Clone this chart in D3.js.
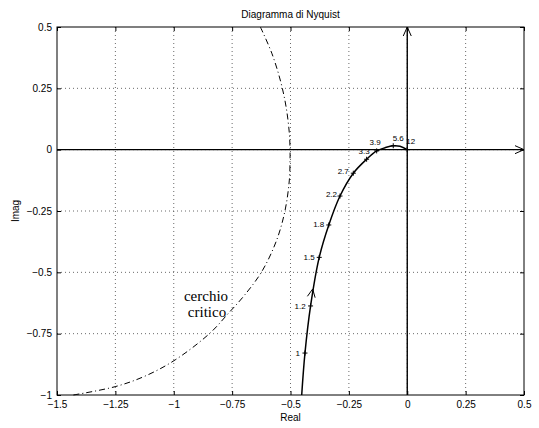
<!DOCTYPE html>
<head>
  <meta charset="utf-8">
  <style>
    body { margin: 0; background: #fff; }
    svg text { font-family: "Liberation Sans", Arial, sans-serif; }
    svg text.serif { font-family: "Liberation Serif", "DejaVu Serif", serif; }
  </style>
</head>
<body>
  <svg width=539 height=428 id="nyquist"></svg>

  <script src="https://d3js.org/d3.v7.min.js"></script>
  <script>
    // tick values and their labels
    const xTicks = [-1.5, -1.25, -1, -0.75, -0.5, -0.25, 0, 0.25, 0.5];
    const xTickLabels = ["\u22121.5", "\u22121.25", "\u22121", "\u22120.75", "\u22120.5", "\u22120.25", "0", "0.25", "0.5"];
    const yTicks = [-1, -0.75, -0.5, -0.25, 0, 0.25, 0.5];
    const yTickLabels = ["\u22121", "\u22120.75", "\u22120.5", "\u22120.25", "0", "0.25", "0.5"];

    // nyquist curve (real, imag)
    const curveRe = [-0.452, -0.438, -0.414, -0.377, -0.336, -0.288, -0.231, -0.174, -0.131, -0.095, -0.060, -0.031, 0];
    const curveIm = [-1.0, -0.829, -0.637, -0.439, -0.307, -0.189, -0.096, -0.039, -0.005, 0.008, 0.016, 0.014, 0];

    // frequency marks on the curve
    const freqLabels = ["1", "1.2", "1.5", "1.8", "2.2", "2.7", "3.3", "3.9", "5.6", "12"];
    const freqRe = [-0.438, -0.414, -0.377, -0.336, -0.288, -0.231, -0.174, -0.131, -0.060, 0];
    const freqIm = [-0.829, -0.637, -0.439, -0.307, -0.189, -0.096, -0.039, -0.005, 0.016, 0];

    // critical circle (dash-dot)
    const circRe = [-0.629, -0.580, -0.542, -0.519, -0.505, -0.502, -0.502, -0.505, -0.523, -0.559, -0.623, -0.702, -0.766, -0.845, -0.994, -1.123, -1.251, -1.43];
    const circIm = [0.5, 0.393, 0.277, 0.175, 0.067, 0.0, -0.042, -0.124, -0.246, -0.368, -0.497, -0.599, -0.667, -0.748, -0.857, -0.923, -0.966, -1.0];

    // where the direction arrow sits on the curve
    const arrowRe = -0.405, arrowIm = -0.568;

    // label offsets in px (layout only)
    const labelDx = [-5, -5, -4.5, -4.5, -3, -4.5, 3, 4, 5, 8];
    const labelDy = [3, 3, 2.5, 2, 1, 1, -5, -6, -5, -6];
    const labelAnchor = ["end", "end", "end", "end", "end", "end", "end", "end", "middle", "end"];

    let svg = d3.select("#nyquist"),
        pLeft = 57, pRight = 524, pTop = 27, pBottom = 395;

    let x = d3.scaleLinear().domain([-1.5, 0.5]).range([pLeft, pRight]),
        y = d3.scaleLinear().domain([-1, 0.5]).range([pBottom, pTop]);

    // grid
    let grid = svg.append("g")
        .attr("stroke", "#444")
        .attr("stroke-width", 0.8)
        .attr("stroke-dasharray", "1,3");
    grid.selectAll(".gx").data(xTicks.slice(1, -1)).enter().append("line")
        .attr("x1", d => x(d)).attr("x2", d => x(d))
        .attr("y1", pTop).attr("y2", pBottom);
    grid.selectAll(".gy").data(yTicks.slice(1, -1)).enter().append("line")
        .attr("y1", d => y(d)).attr("y2", d => y(d))
        .attr("x1", pLeft).attr("x2", pRight);

    // axes with inward ticks
    function styleAxis(g) {
      g.select(".domain").remove();
      g.selectAll("text").attr("font-size", 10).attr("fill", "#000");
      g.selectAll("line").attr("stroke", "#000");
    }
    svg.append("g").attr("transform", `translate(0,${pBottom})`)
      .call(d3.axisBottom(x).tickValues(xTicks).tickFormat((d, i) => xTickLabels[i])
        .tickSizeInner(-4).tickSizeOuter(0).tickPadding(6))
      .call(styleAxis);
    svg.append("g").attr("transform", `translate(0,${pTop})`)
      .call(d3.axisTop(x).tickValues(xTicks).tickFormat("")
        .tickSizeInner(-4).tickSizeOuter(0))
      .call(styleAxis);
    svg.append("g").attr("transform", `translate(${pLeft},0)`)
      .call(d3.axisLeft(y).tickValues(yTicks).tickFormat((d, i) => yTickLabels[i])
        .tickSizeInner(-4).tickSizeOuter(0).tickPadding(5))
      .call(styleAxis);
    svg.append("g").attr("transform", `translate(${pRight},0)`)
      .call(d3.axisRight(y).tickValues(yTicks).tickFormat("")
        .tickSizeInner(-4).tickSizeOuter(0))
      .call(styleAxis);

    svg.append("rect")
      .attr("x", pLeft).attr("y", pTop)
      .attr("width", pRight - pLeft).attr("height", pBottom - pTop)
      .attr("fill", "none").attr("stroke", "#000").attr("stroke-width", 1);

    // real and imaginary axes with arrows
    let ax = svg.append("g").attr("stroke", "#000").attr("stroke-width", 1.4).attr("fill", "none");
    ax.append("line").attr("x1", x(-1.5)).attr("x2", x(0.5)).attr("y1", y(0)).attr("y2", y(0));
    ax.append("line").attr("x1", x(0)).attr("x2", x(0)).attr("y1", y(-1)).attr("y2", y(0.5));
    ax.append("path").attr("stroke-width", 1)
      .attr("d", `M${x(0.5) - 9},${y(0) - 4}L${x(0.5)},${y(0)}L${x(0.5) - 9},${y(0) + 4}`);
    ax.append("path").attr("stroke-width", 1)
      .attr("d", `M${x(0) - 4},${y(0.5) + 9}L${x(0)},${y(0.5)}L${x(0) + 4},${y(0.5) + 9}`);

    // critical circle
    let line = d3.line().curve(d3.curveCatmullRom.alpha(0.5));
    svg.append("path")
      .attr("d", line(circRe.map((d, i) => [x(d), y(circIm[i])])))
      .attr("fill", "none").attr("stroke", "#000").attr("stroke-width", 1)
      .attr("stroke-dasharray", "6,3,1,3");

    // nyquist curve
    svg.append("path")
      .attr("d", line(curveRe.map((d, i) => [x(d), y(curveIm[i])])))
      .attr("fill", "none").attr("stroke", "#000").attr("stroke-width", 1.5);

    // direction arrow (points along the curve between 1.2 and 1.5)
    let ang = Math.atan2(y(freqIm[2]) - y(freqIm[1]), x(freqRe[2]) - x(freqRe[1]));
    let ax0 = x(arrowRe), ay0 = y(arrowIm), L = 9, spread = 0.45;
    svg.append("path")
      .attr("d", `M${ax0 - L * Math.cos(ang - spread)},${ay0 - L * Math.sin(ang - spread)}L${ax0},${ay0}L${ax0 - L * Math.cos(ang + spread)},${ay0 - L * Math.sin(ang + spread)}`)
      .attr("fill", "none").attr("stroke", "#000").attr("stroke-width", 1);

    // frequency markers
    let marks = svg.append("g").attr("stroke", "#000").attr("stroke-width", 1);
    freqRe.forEach((d, i) => {
      let px = x(d), py = y(freqIm[i]);
      marks.append("path").attr("d", `M${px - 2.5},${py}H${px + 2.5}M${px},${py - 2.5}V${py + 2.5}`);
    });
    svg.append("g").selectAll("text").data(freqLabels).enter().append("text")
      .attr("x", (d, i) => x(freqRe[i]) + labelDx[i])
      .attr("y", (d, i) => y(freqIm[i]) + labelDy[i])
      .attr("text-anchor", (d, i) => labelAnchor[i])
      .attr("font-size", 8)
      .text(d => d);

    // annotation
    let ann = svg.append("text")
      .attr("class", "serif")
      .attr("font-size", 15).attr("text-anchor", "middle");
    ann.append("tspan").attr("x", 206).attr("y", 301).text("cerchio");
    ann.append("tspan").attr("x", 207).attr("y", 317).text("critico");

    // titles
    svg.append("text").attr("x", (pLeft + pRight) / 2).attr("y", 18)
      .attr("text-anchor", "middle").attr("font-size", 10).text("Diagramma di Nyquist");
    svg.append("text").attr("x", (pLeft + pRight) / 2).attr("y", 421)
      .attr("text-anchor", "middle").attr("font-size", 10).text("Real");
    svg.append("text").attr("transform", `translate(19,${(pTop + pBottom) / 2}) rotate(-90)`)
      .attr("text-anchor", "middle").attr("font-size", 10).text("Imag");
  </script>
</body>
